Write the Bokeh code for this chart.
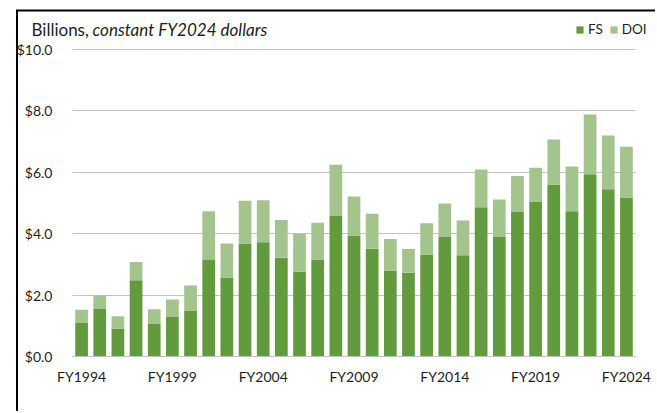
from bokeh.plotting import figure
from bokeh.models import (ColumnDataSource, FixedTicker, NumeralTickFormatter,
                          Label, Legend, LegendItem, Arrow)
from bokeh.embed import file_html
from bokeh.resources import INLINE

years = list(range(1994, 2025))
fs = [1.09, 1.55, 0.91, 2.48, 1.06, 1.29, 1.50, 3.14, 2.57, 3.68, 3.72, 3.22, 2.76, 3.16,
      4.58, 3.94, 3.51, 2.80, 2.73, 3.32, 3.89, 3.30, 4.86, 3.89, 4.71, 5.05, 5.60, 4.73,
      5.94, 5.45, 5.18]
total = [1.52, 1.99, 1.31, 3.08, 1.54, 1.86, 2.31, 4.73, 3.68, 5.07, 5.09, 4.45, 4.00, 4.36,
         6.25, 5.21, 4.65, 3.83, 3.50, 4.34, 4.98, 4.43, 6.09, 5.11, 5.88, 6.15, 7.07, 6.19,
         7.88, 7.20, 6.83]
doi = [round(t - f, 2) for t, f in zip(total, fs)]
tick_years = [1994, 1999, 2004, 2009, 2014, 2019, 2024]
y_ticks = [0, 2, 4, 6, 8, 10]

FS_COLOR = "#629b3e"
DOI_COLOR = "#a3c48d"
FONT = "Lato"
TEXT_COLOR = "#1e1e1e"
W, H = 655, 411
# plot area in page pixels: x 72..635, y 49 (=10) .. 356 (=0)
PX_PER_YEAR = (635 - 72) / 31.0
PX_PER_UNIT = (356 - 49) / 10.0
x0, x1 = 1993.5, 2024.5

src = ColumnDataSource(dict(year=years, FS=fs, DOI=doi))

p = figure(width=W, height=H, output_backend="svg", toolbar_location=None,
           x_range=(x0 - 72 / PX_PER_YEAR, x1 + (W - 635) / PX_PER_YEAR),
           y_range=(-(H - 356) / PX_PER_UNIT, 10 + 49 / PX_PER_UNIT),
           min_border=0)

r = p.vbar_stack(["FS", "DOI"], x="year", width=0.7, color=[FS_COLOR, DOI_COLOR],
                 source=src, line_color=None)

p.outline_line_color = None
p.background_fill_color = "white"
p.border_fill_color = "white"

yt = FixedTicker(ticks=y_ticks)
p.xgrid.grid_line_color = None
p.ygrid.ticker = yt
p.ygrid.grid_line_color = "#c4c4c4"
p.ygrid.grid_line_width = 1
if "cross_bounds" in p.ygrid.properties():
    p.ygrid.cross_bounds = (x0, x1)

p.yaxis.ticker = yt
p.yaxis.fixed_location = x0
p.yaxis.formatter = NumeralTickFormatter(format="$0.0")
p.yaxis.axis_line_color = None
p.yaxis.major_tick_line_color = None
p.yaxis.minor_tick_line_color = None
p.yaxis.major_label_standoff = 14
p.yaxis.major_label_text_font = FONT
p.yaxis.major_label_text_font_size = "14px"
p.yaxis.major_label_text_color = TEXT_COLOR

p.xaxis.ticker = FixedTicker(ticks=tick_years)
p.xaxis.fixed_location = 0
p.xaxis.bounds = (x0, x1)
p.xaxis.major_label_overrides = {y: f"FY{y}" for y in tick_years}
p.xaxis.axis_line_color = "#c4c4c4"
p.xaxis.major_tick_line_color = None
p.xaxis.minor_tick_line_color = None
p.xaxis.major_label_standoff = 5
p.xaxis.major_label_text_font = FONT
p.xaxis.major_label_text_font_size = "14px"
p.xaxis.major_label_text_color = TEXT_COLOR

# chart box border (left and top edges)
left_edge = Arrow(end=None, x_start=16.5, y_start=0, x_end=16.5, y_end=H - 10,
                  start_units="screen", end_units="screen",
                  line_color="black", line_width=2)
top_edge = Arrow(end=None, x_start=15.5, y_start=H - 10, x_end=W, y_end=H - 10,
                 start_units="screen", end_units="screen",
                 line_color="black", line_width=2)
p.add_layout(left_edge)
p.add_layout(top_edge)

t1 = Label(x=31, y=H - 29, x_units="screen", y_units="screen", text="Billions,",
           text_font=FONT, text_font_size="17px", text_baseline="middle", text_color=TEXT_COLOR)
t2 = Label(x=92, y=H - 29, x_units="screen", y_units="screen", text="constant FY2024  dollars",
           text_font=FONT, text_font_size="17px", text_font_style="italic",
           text_baseline="middle", text_color=TEXT_COLOR)
p.add_layout(t1)
p.add_layout(t2)

legend = Legend(items=[LegendItem(label="FS", renderers=[r[0]]),
                       LegendItem(label="DOI", renderers=[r[1]])],
                orientation="horizontal", location=(575, H - 37),
                glyph_width=9, glyph_height=9, label_standoff=4, spacing=6,
                label_width=0, padding=0, margin=0, border_line_color=None,
                background_fill_alpha=0,
                label_text_font=FONT, label_text_font_size="13.5px", label_text_color=TEXT_COLOR,
                label_height=14)
p.add_layout(legend, "center")

open("out.html", "w").write(file_html(p, INLINE))
